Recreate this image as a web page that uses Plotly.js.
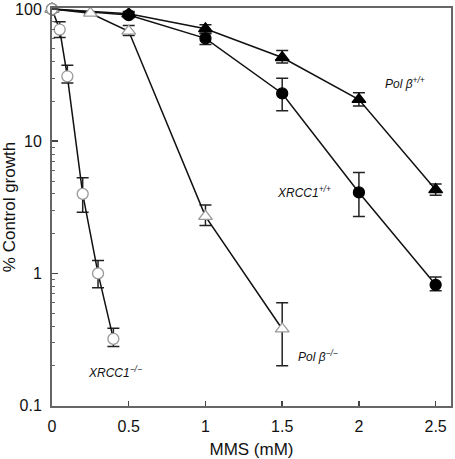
<!DOCTYPE html>
<html>
<head>
<meta charset="utf-8">
<script src="https://cdn.plot.ly/plotly-3.0.1.min.js"></script>
<style>html,body{margin:0;padding:0;background:#fff;}#chart{width:455px;height:459px;}</style>
</head>
<body>
<div id="chart"></div>
<script>
// MMS dose (mM) and % control growth
const xrccKO_x  = [0, 0.05, 0.1, 0.2, 0.3, 0.4];
const xrccKO_y  = [100, 70, 31, 4.0, 1.0, 0.32];
const xrccKO_hi = [100, 80, 37.5, 5.3, 1.25, 0.385];
const xrccKO_lo = [100, 61, 27.6, 2.9, 0.78, 0.28];

const polbKO_x  = [0, 0.25, 0.5, 1.0, 1.5];
const polbKO_y  = [100, 93, 68, 2.7, 0.38];
const polbKO_hi = [100, 93, 75, 3.3, 0.6];
const polbKO_lo = [100, 93, 63, 2.3, 0.2];

const xrccWT_x  = [0, 0.5, 1.0, 1.5, 2.0, 2.5];
const xrccWT_y  = [100, 90, 60, 23, 4.1, 0.82];
const xrccWT_hi = [100, 94, 65, 30, 5.8, 0.94];
const xrccWT_lo = [100, 86, 54, 17, 2.7, 0.74];

const polbWT_x  = [0, 0.5, 1.0, 1.5, 2.0, 2.5];
const polbWT_y  = [100, 92, 71, 43, 20.7, 4.3];
const polbWT_hi = [100, 96, 76, 48.5, 23.3, 4.75];
const polbWT_lo = [100, 88, 66, 39, 18.5, 3.9];

const yTickVals = [0.1, 1, 10, 100];
const yTickText = ['0.1', '1', '10', '100'];
const yMinorVals = [0.2,0.3,0.4,0.5,0.6,0.7,0.8,0.9, 2,3,4,5,6,7,8,9, 20,30,40,50,60,70,80,90];
const xTickVals = [0, 0.5, 1, 1.5, 2, 2.5];
const xTickText = ['0', '0.5', '1', '1.5', '2', '2.5'];

const seriesLabels = [
  {text: '<i>Pol β<sup>+/+</sup></i>', x: 2.30, y: 27.8},
  {text: '<i>XRCC1<sup>+/+</sup></i>', x: 1.64, y: 4.14},
  {text: '<i>Pol β<sup>−/−</sup></i>', x: 1.735, y: 0.238},
  {text: '<i>XRCC1<sup>−/−</sup></i>', x: 0.41, y: 0.180}
];

function errs(y, hi, lo) {
  return {
    type: 'data', symmetric: false,
    array: hi.map((h, i) => h - y[i]),
    arrayminus: lo.map((l, i) => y[i] - l),
    color: '#222', thickness: 1.5, width: 6
  };
}

function trace(x, y, hi, lo, symbol, filled) {
  return {
    x: x, y: y, type: 'scatter', mode: 'lines+markers',
    line: {color: '#111', width: 1.5},
    marker: {
      symbol: symbol, size: symbol === 'circle' ? 11 : 12,
      color: filled ? '#000' : '#fff',
      line: {color: filled ? '#000' : '#999', width: 1.3}
    },
    error_y: errs(y, hi, lo),
    showlegend: false, cliponaxis: false
  };
}

const data = [
  trace(polbWT_x, polbWT_y, polbWT_hi, polbWT_lo, 'triangle-up', true),
  trace(xrccWT_x, xrccWT_y, xrccWT_hi, xrccWT_lo, 'circle', true),
  trace(polbKO_x, polbKO_y, polbKO_hi, polbKO_lo, 'triangle-up', false),
  trace(xrccKO_x, xrccKO_y, xrccKO_hi, xrccKO_lo, 'circle', false)
];

const layout = {
  width: 455, height: 459,
  margin: {l: 52, r: 4, t: 8, b: 53},
  paper_bgcolor: '#fff', plot_bgcolor: '#fff',
  font: {family: 'Liberation Sans, Arial, sans-serif', color: '#111', size: 16},
  xaxis: {
    range: [0, 2.6], tickmode: 'array', tickvals: xTickVals, ticktext: xTickText,
    ticks: 'inside', ticklen: 5, tickwidth: 1.5, tickcolor: '#444',
    ticklabelstandoff: 5, ticklabeloverflow: 'allow',
    showgrid: false, zeroline: false,
    showline: true, linecolor: '#666', linewidth: 2, mirror: true,
    tickfont: {size: 16},
    title: {text: 'MMS (mM)', font: {size: 17}, standoff: 9}
  },
  yaxis: {
    type: 'log', range: [-1.003, 2.008], tickmode: 'array', tickvals: yTickVals, ticktext: yTickText,
    ticks: 'inside', ticklen: 6, tickwidth: 1.5, tickcolor: '#444',
    ticklabelstandoff: 5, ticklabeloverflow: 'allow',
    minor: {ticks: 'inside', ticklen: 3, tickwidth: 1, tickcolor: '#666', tickmode: 'array', tickvals: yMinorVals, showgrid: false},
    showgrid: false, zeroline: false,
    showline: true, linecolor: '#666', linewidth: 2, mirror: true,
    tickfont: {size: 16},
    title: {text: '% Control growth', font: {size: 17}, standoff: 3}
  },
  annotations: seriesLabels.map(s => ({
    text: s.text, x: s.x, y: Math.log10(s.y), xref: 'x', yref: 'y',
    showarrow: false, font: {size: 12, color: '#111'}
  }))
};

Plotly.newPlot('chart', data, layout, {staticPlot: true, displayModeBar: false});
</script>
</body>
</html>
